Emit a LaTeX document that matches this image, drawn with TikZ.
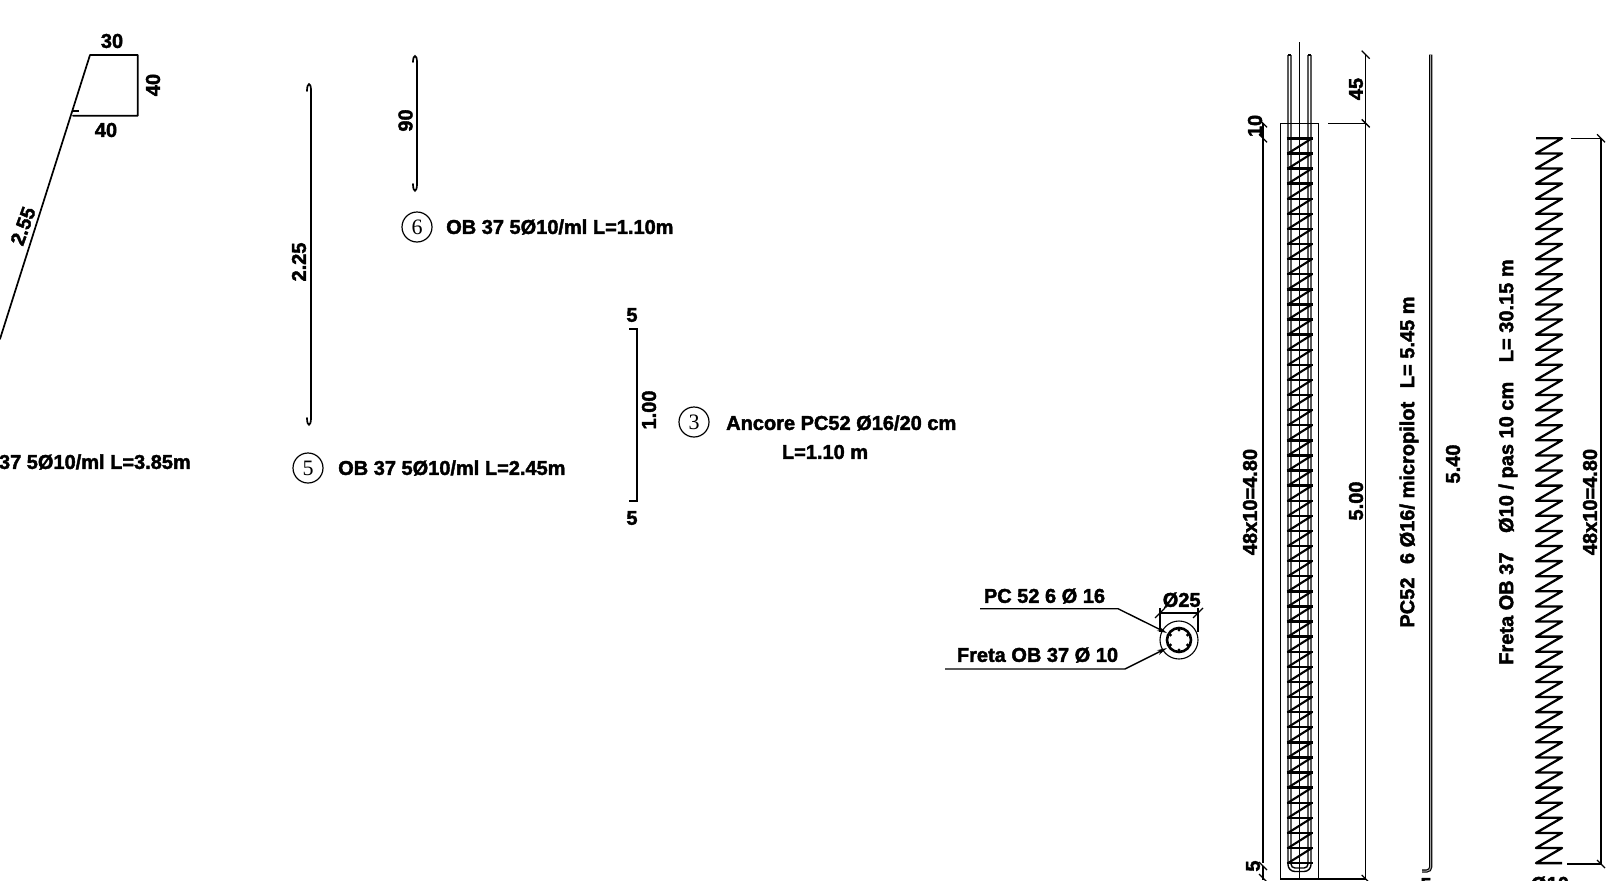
\documentclass[tikz,border=0pt]{standalone}
\usepackage{fontspec}
\setmainfont{Liberation Sans}
\newfontfamily\cadfont{Liberation Sans Bold}[FakeBold=2]
\newfontfamily\numfont{Liberation Serif}
\usetikzlibrary{arrows.meta,calc}
\tikzset{
  lbl/.style={inner sep=0pt,font=\fontsize{20}{22}\cadfont},
  thinl/.style={line width=1.2pt,black},
  bar/.style={line width=1.7pt,black,line cap=round},
  tick/.style={line width=1.3pt,black},
  circnum/.style={circle,draw,line width=1.2pt,inner sep=0pt,minimum size=30pt,font=\fontsize{22}{24}\numfont},
  leader/.style={line width=1.4pt,-{Stealth[length=10pt,width=5pt]}}
}
\newcommand{\dimtick}[1]{\draw[tick] ($(#1)+(-4,-4)$) -- ($(#1)+(4,4)$);}
\begin{document}
\begin{tikzpicture}[x=1pt,y=-1pt]
\useasboundingbox (0,0) rectangle (1610,881);
% shape 2.55
\draw[bar,line join=round] (0,339) -- (90,55) -- (137.7,55) -- (137.7,115.7) -- (73,115.7);
\draw[thinl] (72,111) -- (79,111);
\node[lbl] (t30) at (112,41) {30};
\node[lbl,rotate=90] (t40a) at (153,85) {40};
\node[lbl] (t40b) at (106,130) {40};
\node[lbl,rotate=70] (t255) at (23,226) {2.55};
\node[lbl,anchor=east] (tob1) at (191,462) {37 5Ø10/ml L=3.85m};
% bar 2.25
\draw[bar] (307,91) .. controls (307,82) and (311,82) .. (311,90) -- (311,418) .. controls (311,427) and (307,427) .. (307,418);
\node[lbl,rotate=90] (t225) at (299,262) {2.25};
\node[circnum] (c5) at (308,468) {5};
\node[lbl,anchor=west] (tob5) at (338,468) {OB 37 5Ø10/ml L=2.45m};
% bar 90
\draw[bar] (413,62) .. controls (413,54) and (417,54) .. (417,62) -- (417,184) .. controls (417,193) and (413,193) .. (413,184);
\node[lbl,rotate=90] (t90) at (405.5,120.5) {90};
\node[circnum] (c6) at (417,227) {6};
\node[lbl,anchor=west] (tob6) at (446,227) {OB 37 5Ø10/ml L=1.10m};
% anchor
\draw[bar,line cap=butt] (629,328.7) -- (636.7,328.7) -- (636.7,500.7) -- (629,500.7);
\node[lbl] (t5a) at (632,315) {5};
\node[lbl] (t5b) at (632,518) {5};
\node[lbl,rotate=90] (t100) at (649,410) {1.00};
\node[circnum] (c3) at (694,422) {3};
\node[lbl,anchor=west] (tanc) at (726,423) {Ancore PC52 Ø16/20 cm};
\node[lbl] (tl) at (825,452) {L=1.10 m};
% section
\coordinate (sc) at (1179,640);
\draw[line width=1.1pt] (sc) circle[radius=19];
\draw[line width=2.6pt] (sc) circle[radius=12];
\foreach \a in {30,90,...,330}{\fill ($(sc)+(\a:10)$) circle[radius=1.7];}
\node[lbl] (tpc) at (1044.5,596) {PC 52 6 Ø 16};
\node[lbl] (tfr) at (1037.5,655) {Freta OB 37 Ø 10};
\coordinate (l1a) at (980,608.7);
\coordinate (l1b) at (1118,608.7);
\coordinate (l1c) at (1167,633);
\coordinate (l2a) at (945,669);
\coordinate (l2b) at (1125,669);
\coordinate (l2c) at (1167,648);
\draw[leader] (l1a) -- (l1b) -- (l1c);
\draw[leader] (l2a) -- (l2b) -- (l2c);
\coordinate (da) at (1160,613);
\coordinate (db) at (1198,613);
\draw[tick] (da) -- (db) (1160,608) -- (1160,632) (1198,608) -- (1198,632);
\draw[tick] (1155,618) -- (1165,608) (1193,618) -- (1203,608);
\node[lbl] (t25) at (1181.7,600) {Ø25};
% rebar elevation
\draw[thinl] (1299.7,42) -- (1299.7,880);
\draw[line width=1.4pt,rounded corners=7pt] (1288,55) -- (1288,871.5) -- (1311,871.5) -- (1311,55);
\draw[line width=1.4pt,rounded corners=4pt] (1291,55) -- (1291,868) -- (1308,868) -- (1308,55);
\draw[line width=1.4pt] (1288,55) -- (1291,55) (1308,55) -- (1311,55);
\draw[thinl] (1280.3,123.3) rectangle (1318.7,879);
\foreach \i in {0,...,48}{
  \pgfmathsetmacro{\yy}{138.3+15.1*\i}
  \draw[line width=2.4pt] (1286.7,\yy) -- (1312.7,\yy);
}
\foreach \i in {0,...,47}{
  \pgfmathsetmacro{\ya}{138.3+15.1*\i}
  \pgfmathsetmacro{\yb}{138.3+15.1*(\i+1)}
  \draw[line width=2.1pt] (1312,\ya) -- (1288,\yb);
}
% dims left
\draw[thinl] (1263,123) -- (1263,863);
\draw[thinl] (1263,866) -- (1263,880);
\dimtick{1263,123.3}\dimtick{1263,138.3}\dimtick{1263,866}\dimtick{1263,878}
\node[lbl,rotate=90] (t10) at (1255,126) {10};
\node[lbl,rotate=90] (t48a) at (1250,502) {48x10=4.80};
\node[lbl,rotate=90] (t5c) at (1253,866) {5};
% dims right
\draw[thinl] (1365.7,54.7) -- (1365.7,879) -- (1318.7,879);
\draw[thinl] (1328,123.3) -- (1365.7,123.3);
\dimtick{1365.7,54.7}\dimtick{1365.7,123.3}\dimtick{1365.7,879}
\node[lbl,rotate=90] (t45) at (1356,89) {45};
\node[lbl,rotate=90] (t500) at (1356,501) {5.00};
% straight bar
\draw[line width=3.2pt,black,rounded corners=4pt] (1430.7,54.7) -- (1430.7,871) -- (1422,871);
\draw[line width=1pt,gray!70,rounded corners=4pt] (1430.7,54.7) -- (1430.7,871) -- (1422,871);
\node[lbl] (t5d) at (1426,885) {5};
\node[lbl,rotate=90] (t545) at (1409,462) {PC52\hspace{.4em} 6 Ø16/ micropilot\hspace{.4em} L= 5.45 m};
\node[lbl,rotate=90] (t540) at (1453,464) {5.40};
\node[lbl,rotate=90] (tfreta) at (1508,462) {Freta OB 37\hspace{.7em} Ø10 / pas 10 cm\hspace{.7em} L= 30.15 m};
% zigzag
\draw[line width=2.3pt,line join=round] (1536,138.3) -- (1562,138.3)
  \foreach \i in {1,...,48}{ -- (1536,138.3+15.1*\i) -- (1562,138.3+15.1*\i)};
\draw[thinl] (1571,138.3) -- (1601,138.3) -- (1601,864) -- (1567,864);
\dimtick{1601,138.3}\dimtick{1601,864}
\node[lbl,rotate=90] (t48b) at (1590,502) {48x10=4.80};
\node[lbl] (t10b) at (1550,884) {Ø10};
\end{tikzpicture}
\end{document}
